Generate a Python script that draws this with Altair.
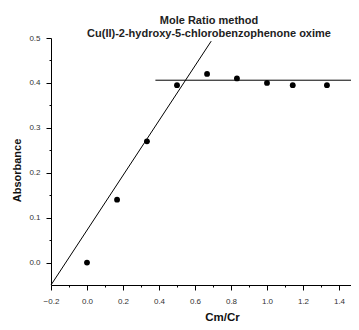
import altair as alt
import pandas as pd

# measured points
cm_cr = [0.0, 0.167, 0.333, 0.5, 0.667, 0.833, 1.0, 1.143, 1.333]
absorbance = [0.0, 0.14, 0.27, 0.395, 0.42, 0.41, 0.40, 0.395, 0.395]

# fitted lines (end points)
rise_x = [-0.2, 0.69]
rise_y = [-0.05, 0.493]
plateau_x = [0.38, 1.467]
plateau_y = [0.406, 0.406]

x_ticks = [-0.2, -0.1, 0.0, 0.1, 0.2, 0.3, 0.4, 0.5, 0.6, 0.7, 0.8, 0.9, 1.0, 1.1, 1.2, 1.3, 1.4, 1.5]
y_ticks = [0.0, 0.05, 0.1, 0.15, 0.2, 0.25, 0.3, 0.35, 0.4, 0.45, 0.5]

pts = pd.DataFrame({"x": cm_cr, "y": absorbance})
lines = pd.concat([
    pd.DataFrame({"x": rise_x, "y": rise_y, "seg": "rise"}),
    pd.DataFrame({"x": plateau_x, "y": plateau_y, "seg": "plateau"}),
])

FONT = "Liberation Sans"
x_major = "abs(datum.value*5 - round(datum.value*5)) < 0.001"
y_major = "abs(datum.value*10 - round(datum.value*10)) < 0.001"

x_enc = alt.X(
    "x:Q",
    scale=alt.Scale(domain=[-0.2, 1.5], range=[0, 306], nice=False, zero=False),
    axis=alt.Axis(
        title="Cm/Cr", values=x_ticks, grid=False,
        labelExpr=f"{x_major} ? format(datum.value, '.1f') : ''",
        labelFont=FONT, labelFontSize=8, labelColor="#333",
        labelPadding=7, labelFlush=False, labelOverlap=False,
        tickSize={"condition": {"test": x_major, "value": 5}, "value": 2},
        tickColor="black", domainColor="black",
        titleFont=FONT, titleFontSize=11.5, titleFontWeight="bold",
        titleColor="#111", titleX=171, titleY=32, titleBaseline="middle",
    ),
)
y_enc = alt.Y(
    "y:Q",
    scale=alt.Scale(domain=[-0.05, 0.5], nice=False, zero=False),
    axis=alt.Axis(
        title="Absorbance", values=y_ticks, grid=False,
        labelExpr=f"{y_major} ? format(datum.value, '.1f') : ''",
        labelFont=FONT, labelFontSize=8, labelColor="#333",
        labelPadding=6, labelFlush=False, labelOverlap=False,
        tickSize={"condition": {"test": y_major, "value": 5}, "value": 2},
        tickColor="black", domainColor="black",
        titleFont=FONT, titleFontSize=11, titleFontWeight="bold",
        titleColor="#111", titleAngle=270, titleX=-34, titleY=132,
        titleBaseline="middle",
    ),
)

line_layer = alt.Chart(lines).mark_line(color="black", strokeWidth=1, clip=False).encode(
    x=x_enc, y=y_enc, detail="seg:N"
)
point_layer = alt.Chart(pts).mark_point(filled=True, color="black", size=34, opacity=1).encode(
    x=x_enc, y=y_enc
)

chart = alt.layer(line_layer, point_layer).properties(
    width=300,
    height=247,
    autosize=alt.AutoSizeParams(type="none"),
    padding={"left": 43, "top": 30, "right": 0, "bottom": 37},
    title=alt.TitleParams(
        text="Mole Ratio method",
        subtitle="Cu(II)-2-hydroxy-5-chlorobenzophenone oxime",
        font=FONT, fontSize=11, fontWeight="bold", color="#222",
        subtitleFont=FONT, subtitleFontSize=11, subtitleFontWeight="bold",
        subtitleColor="#222", subtitlePadding=2,
        anchor="middle", frame="group", dx=8, offset=-5,
    ),
).configure_view(stroke=None)

chart.save("out.html", embed_options={"renderer": "svg", "actions": False})
